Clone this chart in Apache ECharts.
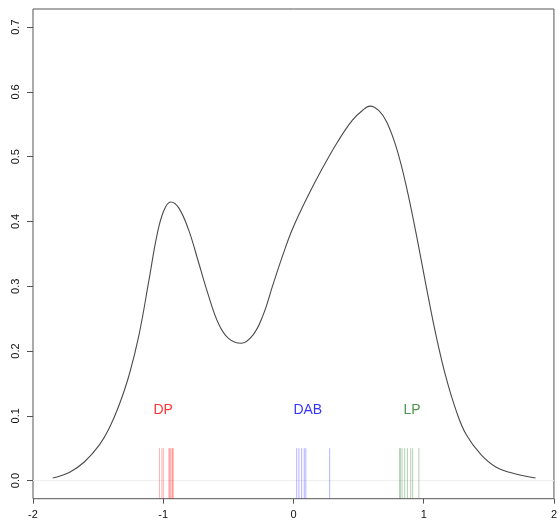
<!DOCTYPE html>
<html>
<head>
<meta charset="utf-8">
<script src="https://cdn.jsdelivr.net/npm/echarts@6/dist/echarts.min.js"></script>
<style>html,body{margin:0;padding:0;background:#fff}#c{width:560px;height:524px}</style>
</head>
<body>
<div id="c"></div>
<script>
// density curve
var densX = [-1.848,-1.718,-1.604,-1.490,-1.414,-1.338,-1.262,-1.186,-1.110,-1.048,-0.995,-0.942,-0.881,-0.805,-0.729,-0.653,-0.577,-0.501,-0.402,-0.310,-0.234,-0.158,-0.082,-0.006,0.108,0.222,0.336,0.451,0.527,0.588,0.656,0.717,0.793,0.869,0.945,1.021,1.097,1.173,1.249,1.326,1.440,1.554,1.707,1.859];
var densY = [0.004,0.013,0.029,0.055,0.081,0.117,0.163,0.225,0.309,0.379,0.417,0.430,0.421,0.387,0.337,0.286,0.243,0.220,0.212,0.225,0.255,0.302,0.348,0.389,0.438,0.482,0.522,0.556,0.571,0.578,0.571,0.553,0.512,0.452,0.378,0.298,0.222,0.158,0.108,0.071,0.040,0.021,0.010,0.004];
// rug values per group
var rugDP  = [-1.029,-1.010,-0.999,-0.957,-0.950,-0.946,-0.934,-0.928,-0.923];
var rugDAB = [0.025,0.042,0.063,0.083,0.095,0.278];
var rugLP  = [0.816,0.820,0.834,0.854,0.875,0.900,0.915,0.963];
var groupNames = ['DP','DAB','LP'];
var groupLabelX = [-1.0,0.11,0.91];
var groupLabelY = [0.109,0.109,0.109];
var xTicks = [-2,-1,0,1,2];
var yTicks = [0,0.1,0.2,0.3,0.4,0.5,0.6,0.7];

var FONT = '"Liberation Sans", Arial, sans-serif';
var chart = echarts.init(document.getElementById('c'), null, {renderer:'canvas'});

function rugSeries(vals, color){
  return {
    type:'custom',
    clip:true,
    data: vals.map(function(v){return [v];}),
    renderItem:function(params, api){
      var x = api.value(0);
      var p1 = api.coord([x,-0.028]);
      var p2 = api.coord([x,0.05]);
      return {type:'line', shape:{x1:p1[0],y1:p1[1],x2:p2[0],y2:p2[1]}, style:{stroke:color,lineWidth:1}};
    },
    silent:true,
    z:3
  };
}

var labelColors = ['#ff0000','#0000ff','#1f7a1f'];

chart.setOption({
  animation:false,
  grid:{left:33,right:1.5,top:9,bottom:25.3,show:true,borderColor:'#555',borderWidth:1,containLabel:false},
  xAxis:{type:'value',min:-2,max:2,interval:1,position:'bottom',
    axisLine:{show:false,onZero:false},
    splitLine:{show:false},
    axisTick:{show:true,inside:false,length:5,lineStyle:{color:'#555'},customValues:xTicks},
    axisLabel:{color:'#111',fontSize:11,fontFamily:FONT,margin:11,customValues:xTicks,formatter:function(v){return String(v);}}
  },
  yAxis:{type:'value',min:-0.028,max:0.728,position:'left',
    axisLine:{show:false,onZero:false},
    splitLine:{show:false},
    axisTick:{show:true,inside:false,length:6,lineStyle:{color:'#555'},customValues:yTicks},
    axisLabel:{color:'#111',fontSize:11,fontFamily:FONT,rotate:90,margin:12,customValues:yTicks,formatter:function(v){return v.toFixed(1);}}
  },
  series:[
    {type:'line',data:[[-2,0],[2,0]],symbol:'none',lineStyle:{color:'#eeeeee',width:1},silent:true,z:1},
    {type:'line',data:densX.map(function(x,i){return [x,densY[i]];}),symbol:'none',smooth:0.4,
      lineStyle:{color:'#4a4a4a',width:1.1},silent:true,z:2},
    rugSeries(rugDP,'rgba(255,0,0,0.3)'),
    rugSeries(rugDAB,'rgba(0,0,255,0.3)'),
    rugSeries(rugLP,'rgba(0,100,0,0.3)'),
    {type:'scatter',symbolSize:0,silent:true,z:4,
      data:groupNames.map(function(n,i){return {value:[groupLabelX[i],groupLabelY[i]],name:n,
        label:{show:true,position:'inside',formatter:n,color:labelColors[i],fontSize:14,fontFamily:FONT}};})
    }
  ]
});
</script>
</body>
</html>
